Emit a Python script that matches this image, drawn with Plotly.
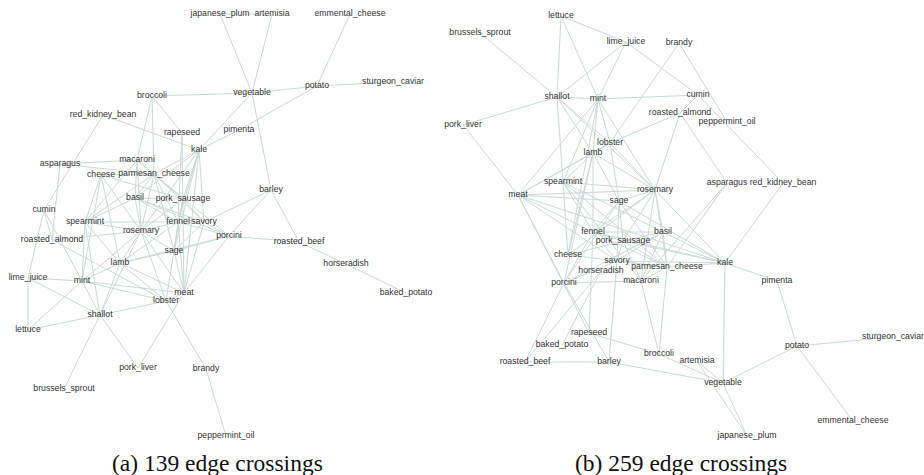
import plotly.graph_objects as go

# Ingredient network: node names and two alternative layouts of the same graph
nodes = [
    "japanese_plum", "artemisia", "emmental_cheese", "vegetable", "potato",
    "sturgeon_caviar", "broccoli", "red_kidney_bean", "rapeseed", "pimenta",
    "kale", "asparagus", "macaroni", "cheese", "parmesan_cheese", "basil",
    "pork_sausage", "barley", "cumin", "spearmint", "fennel", "savory",
    "rosemary", "roasted_almond", "porcini", "roasted_beef", "sage", "lamb",
    "horseradish", "lime_juice", "mint", "meat", "lobster", "baked_potato",
    "shallot", "lettuce", "pork_liver", "brandy", "brussels_sprout",
    "peppermint_oil",
]

# Layout (a): 139 edge crossings
layout_a_x = [220, 272, 350, 252, 317, 393, 152, 103, 182, 239,
              199, 60, 137, 101, 154, 135, 183, 271, 44, 85,
              178, 204, 141, 52, 229, 299, 174, 120, 346, 28,
              82, 184, 166, 406, 100, 28, 138, 206, 64, 226]
layout_a_y = [14, 14, 14, 93, 86, 82, 96, 115, 133, 130,
              150, 164, 160, 175, 174, 198, 199, 190, 210, 222,
              222, 222, 231, 240, 236, 242, 251, 263, 264, 278,
              281, 293, 301, 293, 315, 330, 368, 369, 389, 436]

# Layout (b): 259 edge crossings
layout_b_x = [747, 697, 853, 723, 797, 893, 659, 783, 589, 777,
              725, 727, 641, 568, 667, 663, 623, 609, 698, 563,
              593, 617, 655, 680, 564, 525, 619, 593, 601, 626,
              598, 518, 610, 562, 557, 561, 463, 679, 480, 727]
layout_b_y = [436, 361, 421, 383, 346, 337, 354, 183, 333, 281,
              263, 183, 281, 255, 267, 232, 241, 362, 95, 182,
              232, 261, 190, 113, 283, 362, 201, 153, 271, 42,
              99, 195, 143, 345, 97, 16, 125, 43, 33, 122]

edges = [
    ("japanese_plum", "vegetable"), ("japanese_plum", "artemisia"),
    ("artemisia", "vegetable"), ("emmental_cheese", "potato"),
    ("sturgeon_caviar", "potato"), ("potato", "vegetable"),
    ("potato", "pimenta"), ("vegetable", "broccoli"), ("vegetable", "kale"),
    ("vegetable", "barley"), ("pimenta", "kale"), ("red_kidney_bean", "kale"),
    ("red_kidney_bean", "cumin"), ("broccoli", "rapeseed"),
    ("broccoli", "macaroni"), ("broccoli", "parmesan_cheese"),
    ("asparagus", "macaroni"), ("asparagus", "parmesan_cheese"),
    ("asparagus", "roasted_almond"), ("cumin", "roasted_almond"),
    ("cumin", "mint"), ("cumin", "lime_juice"),
    ("roasted_almond", "rosemary"), ("roasted_almond", "lobster"),
    ("lime_juice", "lettuce"), ("lime_juice", "mint"),
    ("lime_juice", "shallot"), ("lettuce", "shallot"), ("lettuce", "mint"),
    ("shallot", "mint"), ("shallot", "brussels_sprout"),
    ("shallot", "pork_liver"), ("shallot", "lobster"), ("pork_liver", "meat"),
    ("lobster", "brandy"), ("brandy", "peppermint_oil"),
    ("barley", "roasted_beef"), ("barley", "porcini"), ("barley", "savory"),
    ("porcini", "roasted_beef"), ("roasted_beef", "horseradish"),
    ("horseradish", "baked_potato"), ("porcini", "macaroni"),
    ("spearmint", "cheese"), ("spearmint", "parmesan_cheese"),
    ("spearmint", "macaroni"), ("spearmint", "rosemary"),
    ("spearmint", "mint"), ("spearmint", "lamb"), ("spearmint", "fennel"),
    ("spearmint", "basil"), ("cheese", "parmesan_cheese"),
    ("cheese", "rosemary"), ("cheese", "lamb"), ("cheese", "mint"),
    ("cheese", "pork_sausage"), ("macaroni", "parmesan_cheese"),
    ("macaroni", "rosemary"), ("macaroni", "pork_sausage"),
    ("macaroni", "basil"), ("parmesan_cheese", "basil"),
    ("parmesan_cheese", "rosemary"), ("parmesan_cheese", "fennel"),
    ("parmesan_cheese", "pork_sausage"), ("parmesan_cheese", "sage"),
    ("parmesan_cheese", "savory"), ("kale", "parmesan_cheese"),
    ("kale", "basil"), ("kale", "pork_sausage"), ("kale", "fennel"),
    ("kale", "savory"), ("kale", "sage"), ("kale", "meat"),
    ("kale", "rosemary"), ("rapeseed", "fennel"), ("rapeseed", "meat"),
    ("basil", "pork_sausage"), ("basil", "rosemary"), ("basil", "fennel"),
    ("basil", "savory"), ("basil", "porcini"), ("pork_sausage", "fennel"),
    ("pork_sausage", "sage"), ("pork_sausage", "savory"),
    ("pork_sausage", "rosemary"), ("fennel", "savory"),
    ("fennel", "rosemary"), ("fennel", "sage"), ("fennel", "meat"),
    ("fennel", "lamb"), ("fennel", "porcini"), ("savory", "sage"),
    ("savory", "porcini"), ("savory", "meat"), ("rosemary", "sage"),
    ("rosemary", "lamb"), ("rosemary", "mint"), ("rosemary", "lobster"),
    ("rosemary", "meat"), ("sage", "lamb"), ("sage", "meat"),
    ("sage", "porcini"), ("sage", "lobster"), ("lamb", "mint"),
    ("lamb", "meat"), ("lamb", "lobster"), ("lamb", "shallot"),
    ("lamb", "porcini"), ("mint", "meat"), ("mint", "lobster"),
    ("shallot", "spearmint"), ("shallot", "rosemary"), ("meat", "lobster"),
    ("porcini", "meat"),
]

captions = ["(a) 139 edge crossings", "(b) 259 edge crossings"]

EDGE_COLOR = "#c9d9d6"
LABEL_FONT = dict(family="Liberation Sans, Arial, sans-serif", size=8.7, color="#333333")
HALO = "0px 0px 2px #ffffff"

fig = go.Figure()
index = {n: i for i, n in enumerate(nodes)}

for xs, ys, xa, ya in [(layout_a_x, layout_a_y, "x", "y"),
                       (layout_b_x, layout_b_y, "x2", "y2")]:
    ex, ey = [], []
    for s, t in edges:
        i, j = index[s], index[t]
        ex += [xs[i], xs[j], None]
        ey += [ys[i], ys[j], None]
    fig.add_trace(go.Scatter(x=ex, y=ey, mode="lines", xaxis=xa, yaxis=ya,
                             line=dict(color=EDGE_COLOR, width=1),
                             hoverinfo="skip", showlegend=False))
    fig.add_trace(go.Scatter(x=xs, y=ys, mode="text", text=nodes,
                             xaxis=xa, yaxis=ya, textposition="middle center",
                             textfont=dict(**LABEL_FONT, shadow=HALO),
                             cliponaxis=False,
                             hoverinfo="text", showlegend=False))

axis_common = dict(visible=False, showgrid=False, zeroline=False, fixedrange=True)
caption_font = dict(family="Liberation Serif, Times New Roman, serif", size=23.5, color="#111111")
fig.update_layout(
    width=924, height=475,
    margin=dict(l=0, r=0, t=0, b=0),
    paper_bgcolor="white", plot_bgcolor="white",
    xaxis=dict(domain=[0, 0.5], range=[0, 462], **axis_common),
    yaxis=dict(domain=[0, 1], range=[475, 0], **axis_common),
    xaxis2=dict(domain=[0.5, 1], range=[462, 924], **axis_common),
    yaxis2=dict(domain=[0, 1], range=[475, 0], anchor="x2", **axis_common),
    annotations=[
        dict(text=captions[0], x=217, y=463, xref="x", yref="y",
             showarrow=False, font=caption_font),
        dict(text=captions[1], x=681, y=463, xref="x2", yref="y2",
             showarrow=False, font=caption_font),
    ],
)

fig.write_html("out.html")
